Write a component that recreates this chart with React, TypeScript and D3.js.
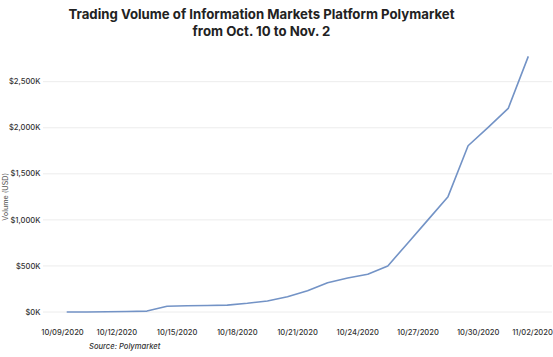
import React from "react";
import * as d3 from "d3";

const dates: string[] = [
  "2020-10-10", "2020-10-11", "2020-10-12", "2020-10-13", "2020-10-14", "2020-10-15",
  "2020-10-16", "2020-10-17", "2020-10-18", "2020-10-19", "2020-10-20", "2020-10-21",
  "2020-10-22", "2020-10-23", "2020-10-24", "2020-10-25", "2020-10-26", "2020-10-27",
  "2020-10-28", "2020-10-29", "2020-10-30", "2020-10-31", "2020-11-01", "2020-11-02",
];
const volumeK: number[] = [
  0, 0, 2, 6, 10, 62,
  68, 71, 75, 95, 120, 165,
  230, 318, 370, 410, 500, 750,
  1000, 1252, 1805, 2005, 2210, 2775,
];
const yTicks: number[] = [0, 500, 1000, 1500, 2000, 2500];
const xTickDates: string[] = [
  "2020-10-09", "2020-10-12", "2020-10-15", "2020-10-18", "2020-10-21",
  "2020-10-24", "2020-10-27", "2020-10-30", "2020-11-02",
];
const titleLines: string[] = [
  "Trading Volume of Information Markets Platform Polymarket",
  "from Oct. 10 to Nov. 2",
];
const yAxisTitle = "Volume (USD)";
const sourceText = "Source: Polymarket";

const W = 553;
const H = 357;
const plotLeft = 43;
const plotRight = 552;
const parse = d3.utcParse("%Y-%m-%d");

export default function App() {
  const x = d3
    .scaleUtc()
    .domain([parse("2020-10-10")!, parse("2020-11-02")!])
    .range([66.7, 528.3]);
  const y = d3.scaleLinear().domain([0, 2500]).range([312, 81.7]);
  const data = dates.map((d, i) => ({ date: parse(d)!, v: volumeK[i] }));
  const line = d3
    .line<{ date: Date; v: number }>()
    .x((d) => x(d.date))
    .y((d) => y(d.v));
  const fmtY = (v: number) => "$" + d3.format(",")(v) + "K";
  const fmtX = d3.utcFormat("%m/%d/%Y");
  const font = "Inter, 'Noto Sans', sans-serif";
  const labelHalf = 19.5;

  return (
    <svg
      width={W}
      height={H}
      style={{ position: "absolute", left: 0, top: 0, background: "#fff" }}
      fontFamily={font}
    >
      <rect width={W} height={H} fill="#fff" />
      {titleLines.map((t, i) => (
        <text
          key={i}
          x={261.5}
          y={18.5 + i * 17.3}
          textAnchor="middle"
          fontSize={13.2}
          fontWeight={700}
          fill="#222"
        >
          {t}
        </text>
      ))}
      {yTicks.map((t) => (
        <g key={t}>
          <line
            x1={plotLeft}
            x2={plotRight}
            y1={y(t)}
            y2={y(t)}
            stroke="#ececec"
            strokeWidth={1}
          />
          <text
            x={40.5}
            y={y(t)}
            dy="0.35em"
            textAnchor="end"
            fontSize={7.6}
            fontWeight={500}
            fill="#333"
          >
            {fmtY(t)}
          </text>
        </g>
      ))}
      <text
        transform={`translate(8,${y(1250)}) rotate(-90)`}
        textAnchor="middle"
        fontSize={7.2}
        fill="#555"
      >
        {yAxisTitle}
      </text>
      {xTickDates.map((d) => {
        const dt = parse(d)!;
        let cx = x(d3.utcHour.offset(dt, 12));
        cx = Math.max(plotLeft + labelHalf, Math.min(plotRight - labelHalf, cx));
        return (
          <text
            key={d}
            x={cx}
            y={334.5}
            textAnchor="middle"
            fontSize={7.6}
            fontWeight={500}
            fill="#333"
          >
            {fmtX(dt)}
          </text>
        );
      })}
      <path
        d={line(data) || ""}
        fill="none"
        stroke="#7393c6"
        strokeWidth={1.6}
        strokeLinejoin="round"
      />
      <text
        x={89}
        y={348.5}
        fontSize={7.6}
        fontStyle="italic"
        fontWeight={500}
        fill="#333"
      >
        {sourceText}
      </text>
    </svg>
  );
}
